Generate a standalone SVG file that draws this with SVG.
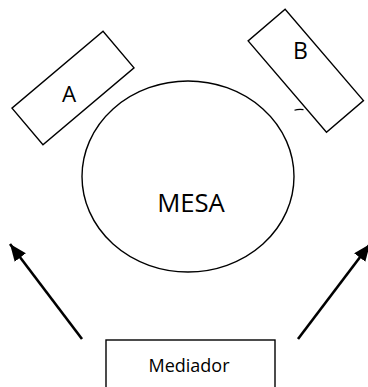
<svg xmlns="http://www.w3.org/2000/svg" width="368" height="387" viewBox="0 0 368 387">
<style>
.box{fill:#fff;stroke:#000;stroke-width:1.4}
.lbl{font-family:"Open Sans","Liberation Sans",sans-serif;fill:#000;text-anchor:middle}
.arrow{stroke:#000;stroke-width:2.6;fill:none;marker-end:url(#ah)}
</style>
<defs>
<marker id="ah" markerUnits="userSpaceOnUse" markerWidth="20" markerHeight="16" refX="17" refY="7" orient="auto">
<path d="M0,0 L17,7 L0,14 Z" fill="#000"/>
</marker>
</defs>
<rect width="368" height="387" fill="#fff"/>
<g id="mesa">
<ellipse cx="188" cy="176.5" rx="106" ry="95.5" class="box"/>
<text x="191" y="211.5" class="lbl" font-size="25.7">MESA</text>
</g>
<g id="A">
<rect x="13.4" y="64" width="119.2" height="48" class="box" transform="rotate(-40.2 73 88)"/>
<text x="69" y="101.5" class="lbl" font-size="22.4">A</text>
</g>
<g id="B">
<rect x="245.6" y="46.45" width="120.4" height="48.7" class="box" transform="rotate(49.4 305.8 70.8)"/>
<text x="300.5" y="59.3" class="lbl" font-size="23">B</text>
<path d="M294.5,110.2 Q298,109 303.5,109.6" stroke="#000" stroke-width="1.2" fill="none"/>
</g>
<g id="mediador">
<rect x="106" y="340" width="169" height="60" class="box"/>
<text x="189" y="371.5" class="lbl" font-size="18">Mediador</text>
</g>
<g id="connectors">
<line x1="82" y1="339" x2="10" y2="244" class="arrow"/>
<line x1="298" y1="339" x2="370" y2="244" class="arrow"/>
</g>
</svg>
